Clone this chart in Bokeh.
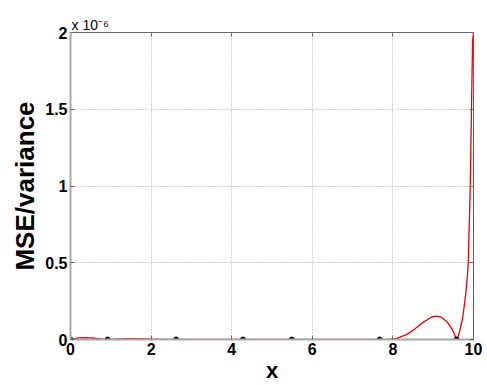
from bokeh.plotting import figure
from bokeh.models import FixedTicker, LinearAxis, Range1d
from bokeh.embed import file_html
from bokeh.resources import INLINE

# ---- data (y in units of 1e-6) ----
curve_x = [0.0, 0.2, 0.4, 0.6, 0.8, 0.92, 1.1, 1.4, 1.7, 2.0, 2.3, 2.62, 3.0, 3.5,
           4.28, 4.9, 5.49, 6.5, 7.67, 7.9, 8.1, 8.36, 8.55, 8.77, 8.95, 9.07, 9.2,
           9.36, 9.49, 9.55, 9.58, 9.62, 9.68, 9.73, 9.79, 9.82, 9.85, 9.87, 9.895,
           9.92, 9.935, 9.95, 9.965, 9.98, 10.0]
curve_y = [0.0, 0.01, 0.012, 0.008, 0.002, 0.0, 0.002, 0.005, 0.005, 0.003, 0.001, 0.0,
           0.0005, 0.0005, 0.0, 0.0002, 0.0, 0.0005, 0.0, 0.001, 0.008, 0.035, 0.07,
           0.115, 0.145, 0.152, 0.145, 0.11, 0.056, 0.02, 0.0, 0.02, 0.08, 0.14, 0.26,
           0.33, 0.42, 0.5, 0.75, 1.0, 1.25, 1.5, 1.75, 1.95, 2.0]
sample_x = [0.0, 0.92, 2.62, 4.28, 5.49, 7.67, 9.58]
sample_y = [0.0, 0.0, 0.0, 0.0, 0.0, 0.0, 0.0]
x_ticks = [0, 2, 4, 6, 8, 10]
y_ticks = [0, 0.5, 1, 1.5, 2]
x_label = "x"
y_label = "MSE/variance"
y_multiplier = "x 10\u207b\u2076"

FONT = "Liberation Sans"

p = figure(width=487, height=385, output_backend="svg", toolbar_location=None,
           x_range=Range1d(0, 10), y_range=Range1d(0, 2),
           min_border_left=70, min_border_right=14, min_border_top=32,
           min_border_bottom=45)
p.background_fill_color = "white"
p.border_fill_color = "white"
p.outline_line_color = "#666666"
p.outline_line_width = 1

p.line(curve_x, curve_y, line_color="#ee0000", line_width=1.3)
p.scatter(sample_x, sample_y, size=5, color="black")

for ax in (p.xaxis[0], p.yaxis[0]):
    ax.major_label_text_font = FONT
    ax.major_label_text_font_style = "bold"
    ax.major_label_text_font_size = "16px"
    ax.major_label_text_color = "black"
    ax.axis_line_color = "#a8a8a8"
    ax.axis_line_width = 2
    ax.major_tick_in = 4
    ax.major_tick_out = 0
    ax.major_tick_line_color = "#666666"
    ax.minor_tick_line_color = None
    ax.major_label_standoff = 3
    ax.axis_label_text_font = FONT
    ax.axis_label_text_font_style = "bold"
    ax.axis_label_text_color = "black"

p.xaxis[0].ticker = FixedTicker(ticks=x_ticks)
p.yaxis[0].ticker = FixedTicker(ticks=y_ticks)

p.yaxis[0].axis_label = y_label
p.yaxis[0].axis_label_text_font_size = "26px"
p.yaxis[0].axis_label_standoff = 2

p.xaxis[0].axis_label = x_label
p.xaxis[0].axis_label_text_font_size = "22px"
p.xaxis[0].axis_label_standoff = 0

# multiplier text above the y axis
p.title.text = y_multiplier
p.title.align = "left"
p.title.offset = 1
p.title.standoff = 0
p.title.text_font = FONT
p.title.text_font_style = "normal"
p.title.text_font_size = "14px"
p.title.text_color = "black"

# box ticks on top and right
for loc, tk in (("above", x_ticks), ("right", y_ticks)):
    a = LinearAxis(ticker=FixedTicker(ticks=tk), major_label_text_font_size="0px",
                   major_tick_in=4, major_tick_out=0, minor_tick_line_color=None,
                   major_tick_line_color="#666666", axis_line_color=None,
                   major_label_standoff=0)
    p.add_layout(a, loc)

p.xgrid.ticker = FixedTicker(ticks=x_ticks)
p.ygrid.ticker = FixedTicker(ticks=y_ticks)
p.grid.grid_line_color = "#a0a0a0"
p.grid.grid_line_dash = "1 2"
p.grid.grid_line_width = 1

open("out.html", "w").write(file_html(p, INLINE))
